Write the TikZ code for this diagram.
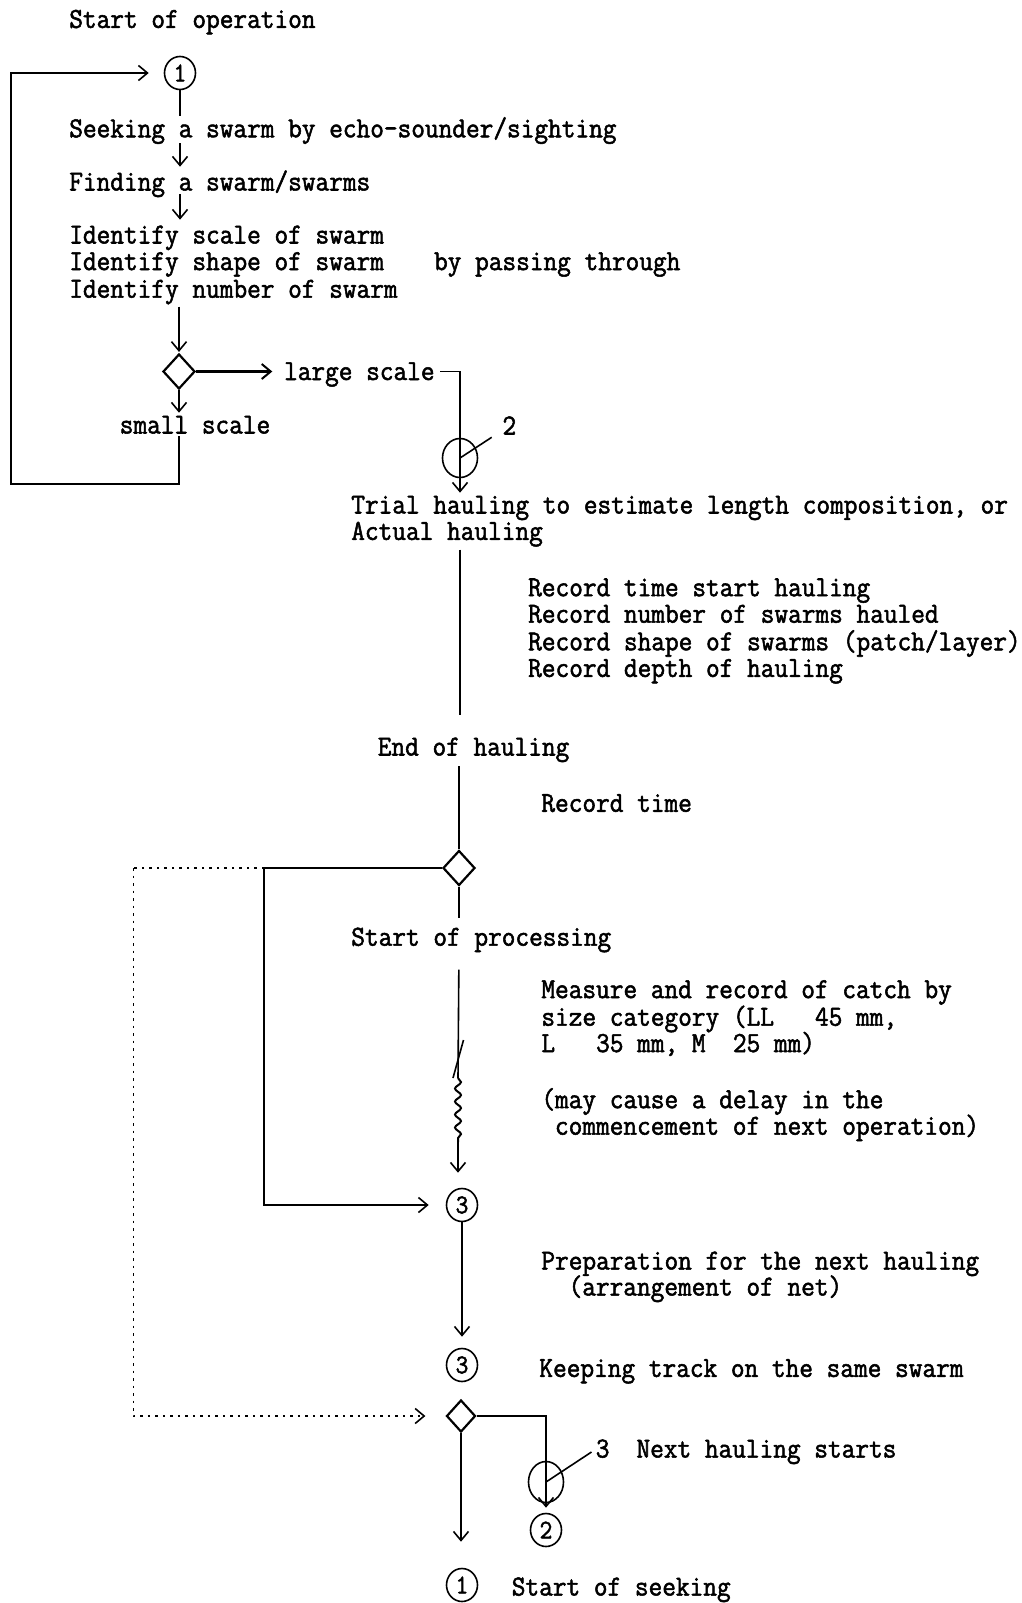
\documentclass[tikz,border=0pt]{standalone}
\usepackage{fontspec}
\newfontfamily\twfont[FakeStretch=0.916,FakeBold=1.8]{Latin Modern Mono}
\usetikzlibrary{arrows.meta,shapes.geometric,decorations.pathmorphing}
\begin{document}
\begin{tikzpicture}[x=1pt,y=-1pt,
  line width=1.6pt,
  txt/.style={font=\twfont\fontsize{29pt}{31pt}\selectfont, anchor=west, inner sep=0pt, text height=19pt, text depth=2pt},
  num/.style={draw, ellipse, inner sep=0pt, minimum width=31pt, minimum height=33pt, font=\twfont\fontsize{27pt}{29pt}\selectfont},
  conn/.style={draw, ellipse, inner sep=0pt, minimum width=35pt, minimum height=39pt},
  dec/.style={draw, diamond, inner sep=0pt, line width=2.2pt, minimum width=32pt, minimum height=35pt},
  arr/.style={-{Straight Barb[length=9pt,width=15pt,line width=1.6pt]}},
  dots/.style={line width=1.5pt, dash pattern=on 2.5pt off 5pt}
]
\useasboundingbox (0,0) rectangle (1021,1603);

% ---------- texts ----------
\node[txt] (t0) at (68.5,19.4) {Start of operation};
\node[txt] (seek) at (68.5,128.8) {Seeking a swarm by echo-sounder/sighting};
\node[txt] (find) at (68.5,182) {Finding a swarm/swarms};
\node[txt] (id1) at (68.5,235) {Identify scale of swarm};
\node[txt] (id2) at (68.5,261.6) {Identify shape of swarm};
\node[txt] (id3) at (68.5,289.2) {Identify number of swarm};
\node[txt] (bypass) at (433.3,261.6) {by passing through};
\node[txt] (large) at (283.3,371.5) {large scale};
\node[txt] (small) at (119,425) {small scale};
\node[txt] (lab2) at (501.7,426) {2};
\node[txt] (trial) at (350.5,505) {Trial hauling to estimate length composition, or};
\node[txt] (actual) at (350.5,531.4) {Actual hauling};
\node[txt] (rec1) at (527.4,587.7) {Record time start hauling};
\node[txt] (rec2) at (527.4,614.2) {Record number of swarms hauled};
\node[txt] (rec3) at (527.4,641.8) {Record shape of swarms (patch/layer)};
\node[txt] (rec4) at (527.4,668.4) {Record depth of hauling};
\node[txt] (endh) at (377,747) {End of hauling};
\node[txt] (rtime) at (540.6,803.3) {Record time};
\node[txt] (startp) at (350.5,937.2) {Start of processing};
\node[txt] (m1) at (540.6,989.6) {Measure and record of catch by};
\node[txt] (m2) at (540.6,1017.2) {size category (LL~~~45 mm,};
\node[txt] (m3) at (540.6,1043.5) {L~~~35 mm, M~~25 mm)};
\node[txt] (m4) at (540.6,1099.7) {(may cause a delay in the};
\node[txt] (m5) at (554.2,1126.2) {commencement of next operation)};
\node[txt] (prep1) at (540.6,1261) {Preparation for the next hauling};
\node[txt] (prep2) at (567.8,1287) {(arrangement of net)};
\node[txt] (keep) at (538.6,1368.4) {Keeping track on the same swarm};
\node[txt] (lab3) at (595,1449) {3};
\node[txt] (nexth) at (635.7,1449) {Next hauling starts};
\node[txt] (sseek) at (511,1587) {Start of seeking};

% ---------- shapes ----------
\node[num] (c1) at (180,73) {1};
\node[dec] (dA) at (179,371.5) {};
\node[conn] (c2) at (460,458) {};
\node[dec] (dB) at (459,868) {};
\node[num] (c3a) at (462,1205) {3};
\node[num] (c3b) at (462,1365) {3};
\node[dec, minimum width=29pt, minimum height=32pt] (dC) at (461,1416) {};
\node[conn, minimum height=41pt] (c4) at (546,1482) {};
\node[num] (c5) at (546,1530) {2};
\node[num] (c6) at (462,1585) {1};

\coordinate (lpA) at (11,484);
\coordinate (jL) at (264,868);
\coordinate (dL) at (133.3,868);
\coordinate (w0) at (463.5,1040);
\coordinate (w0b) at (453,1078);
\coordinate (w1) at (458,1078);
\coordinate (w2) at (458,1142);

% ---------- connectors ----------
\draw[arr, shorten >=15pt] (dA |- small.south) -- (dA |- lpA) -- (lpA) |- (c1.west);
\draw[shorten >=2pt] (c1.south) -- (c1 |- seek.north);
\draw[arr, shorten <=3pt, shorten >=4pt] (c1 |- seek.south) -- (c1 |- find.north);
\draw[arr, shorten <=1pt, shorten >=4pt] (c1 |- find.south) -- (c1 |- id1.north);
\draw[arr, shorten <=6pt, shorten >=1pt] (dA |- id3.south) -- (dA.north);
\draw[arr, shorten >=1pt] (dA.south) -- (dA |- small.north);
\draw[-{Straight Barb[length=9pt,width=15pt,line width=2pt]}, line width=3pt, shorten >=11pt] (dA.east) -- (large.west);
\draw[arr, shorten <=5pt, shorten >=1pt] (large.east) -| (c2 |- trial.north);
\draw (c2.center) -- ++(31.7,-20.7);
\draw[shorten <=7pt, shorten >=21pt] (c2 |- actual.south) -- (c2 |- endh.north);
\draw[shorten <=8pt] (dB |- endh.south) -- (dB.north);
\draw[shorten >=8pt] (dB.south) -- (dB |- startp.north);
\draw[shorten <=21pt] (dB |- startp.south) -- (w1);
\draw (w0) -- (w0b);
\draw[line width=2pt, decorate, decoration={snake, amplitude=3pt, segment length=13pt}] (w1) -- (w2);
\draw[arr, shorten >=15pt] (w2) -- (w2 |- c3a.north);
\draw[arr, shorten >=17pt] (dB.west) -- (jL) |- (c3a.west);
\draw[dots] (jL) -- (dL);
\draw[dots, arr, shorten >=20pt] (dL) |- (dC.west);
\draw[arr, shorten >=11pt] (c3a.south) -- (c3b.north);
\draw[arr, shorten >=5pt] (dC.east) -| (c5.north);
\draw (c4.center) -- ++(45.5,-30);
\draw[arr, shorten >=26pt] (dC.south) -- (dC |- c6.north);
\end{tikzpicture}
\end{document}
